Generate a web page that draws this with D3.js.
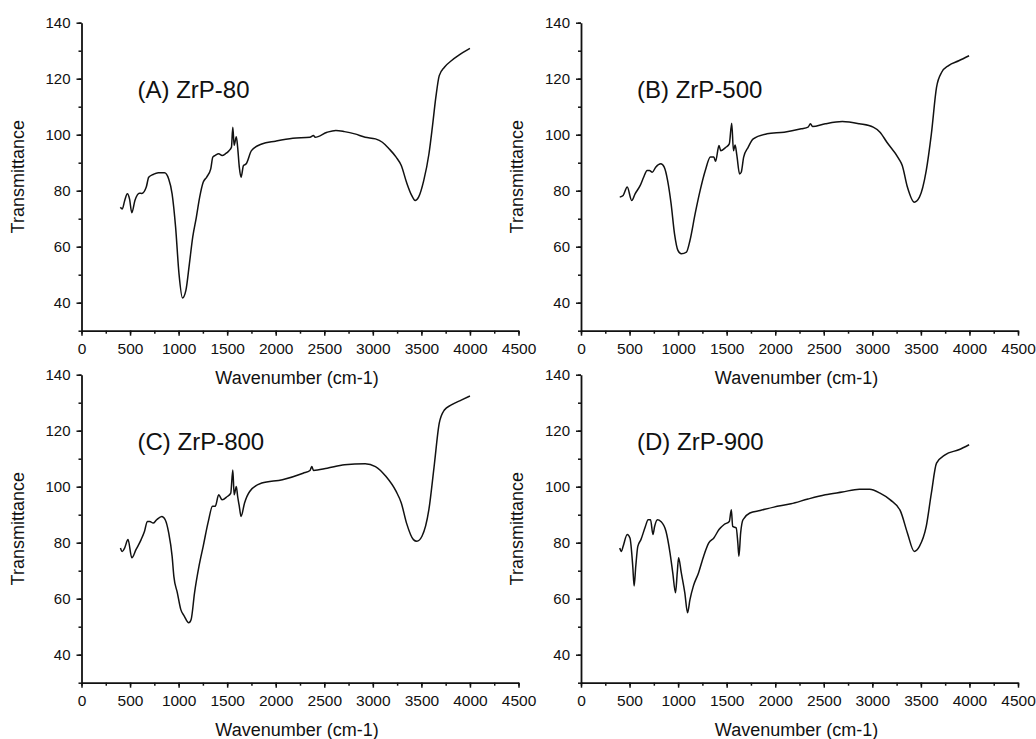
<!DOCTYPE html>
<html>
<head>
<meta charset="utf-8">
<script src="https://cdn.jsdelivr.net/npm/d3@7"></script>
<style>
  html, body { margin: 0; padding: 0; background: #fff; }
  svg { display: block; }
  text { font-family: "Liberation Sans", Arial, sans-serif; fill: #111; }
</style>
</head>
<body>
<svg id="chart" width="1036" height="739"></svg>
<script>
// ---------------- data ----------------
const xTickValues = [0, 500, 1000, 1500, 2000, 2500, 3000, 3500, 4000, 4500];
const yTickValues = [40, 60, 80, 100, 120, 140];
const xDomain = [0, 4500];
const yDomain = [30, 140];
const xTitle = "Wavenumber (cm-1)";
const yTitle = "Transmittance";
const panelLabels = ["(A) ZrP-80", "(B) ZrP-500", "(C) ZrP-800", "(D) ZrP-900"];

// [wavenumber, transmittance]
const zrp80 = [
  [400,74.1],[420,73.5],[445,76.5],[472,78.9],[495,77],[518,72.1],[550,76.5],[596,79.1],[621,79],[667,81.3],
  [692,84.8],[738,85.8],[791,86.4],[855,86.4],[898,84.2],[933,78.9],[969,67],[1004,50.3],[1040,41.7],
  [1075,44.4],[1111,53.9],[1146,63.6],[1182,70.4],[1217,77.7],[1253,83],[1288,84.8],[1331,87.8],[1352,92],
  [1377,92.6],[1413,93.2],[1448,92.6],[1483,93.2],[1519,94.3],[1544,95.5],[1558,102.7],[1572,96.2],
  [1594,99.3],[1608,95.5],[1625,88.4],[1643,84.8],[1668,89],[1696,89.6],[1750,94.3],[1856,96.7],
  [1998,97.7],[2176,98.7],[2353,99.1],[2389,99.7],[2406,99.1],[2530,100.9],[2619,101.5],[2708,101.1],
  [2814,100.3],[2921,99.1],[3027,98.5],[3098,97.3],[3169,94.9],[3240,92],[3293,89],[3347,83],[3400,78.3],
  [3436,76.5],[3471,77.7],[3524,83.6],[3578,93.2],[3613,102.7],[3649,113.4],[3684,121.1],[3737,124.1],
  [3808,126.4],[3879,128.2],[4000,130.8]
];
const zrp500 = [
  [399,77.7],[434,78.3],[476,81.3],[522,76.5],[557,78.9],[610,81.9],[645,84.8],[681,87.2],[705,87.2],
  [734,86.6],[769,88.4],[822,89.6],[857,88.4],[892,83.6],[928,75.3],[963,64.6],[998,58.7],[1033,57.5],
  [1086,58.1],[1122,62.2],[1175,71.7],[1227,80.1],[1280,87.2],[1333,92],[1368,92],[1386,90.5],[1421,96.1],
  [1439,94.3],[1492,95.5],[1527,96.7],[1552,104.1],[1570,94.3],[1587,96.3],[1605,92.6],[1633,86],
  [1650,86.6],[1675,92],[1721,95.5],[1774,98.5],[1915,100.3],[2092,100.9],[2268,102.1],[2338,102.7],
  [2363,103.9],[2384,102.9],[2515,103.9],[2691,104.7],[2867,103.9],[3009,102.7],[3079,100.9],[3150,97.3],
  [3273,91.4],[3308,89],[3361,81.3],[3432,75.9],[3485,77.7],[3555,87.2],[3608,100.3],[3661,116.9],
  [3714,122.3],[3785,124.7],[3890,126.4],[3996,128.2]
];
const zrp800 = [
  [401,78.1],[419,76.9],[444,78.1],[479,81.1],[518,74.6],[561,77.5],[614,81.1],[649,84.1],[678,87.6],
  [703,87.6],[738,87],[774,88.2],[827,89.4],[862,88.2],[898,83.5],[933,75.2],[951,68],[987,62.1],
  [1022,56.2],[1058,53.8],[1104,51.4],[1129,52.6],[1164,62.1],[1210,71.6],[1253,78.7],[1306,87.6],
  [1349,93],[1377,93],[1413,97.1],[1448,95.3],[1501,96.5],[1537,97.7],[1558,106],[1572,97.1],[1594,100.1],
  [1608,96.5],[1625,93],[1643,89.4],[1679,94.2],[1732,98.3],[1856,101.3],[2069,102.5],[2282,104.8],
  [2353,105.8],[2371,107.2],[2389,105.8],[2530,106.6],[2708,107.8],[2921,108.2],[3027,107.2],[3134,103.7],
  [3240,98.3],[3293,94.2],[3347,87],[3418,81.1],[3453,80.5],[3506,82.3],[3577,91.8],[3631,107.2],
  [3684,122.7],[3737,127.4],[3808,129.2],[3915,131],[4000,132.4]
];
const zrp900 = [
  [399,78.1],[416,76.9],[434,78.7],[476,82.9],[504,81.7],[533,71.6],[547,64.5],[564,71.6],[585,78.7],
  [617,81.1],[663,85.8],[691,88.2],[716,88.2],[741,82.9],[758,85.8],[787,88.2],[822,87.6],[875,84.1],
  [917,76.3],[945,69.2],[973,62.1],[991,69.2],[1005,74.6],[1033,69.2],[1069,62.1],[1097,55],[1122,59.7],
  [1157,64.5],[1210,69.2],[1263,75.2],[1316,79.9],[1368,81.7],[1421,84.7],[1474,86.5],[1527,87.6],
  [1548,91.8],[1562,85.8],[1598,85.3],[1615,79.9],[1626,75.2],[1644,83.5],[1668,88.2],[1739,90.6],
  [1845,91.5],[1986,92.7],[2162,93.9],[2338,95.6],[2515,97.1],[2691,98.1],[2867,99.1],[2973,99.1],
  [3079,97.7],[3185,95.3],[3291,91.2],[3361,83.5],[3432,76.9],[3485,78.7],[3555,85.8],[3608,97.7],
  [3661,108.4],[3749,111.4],[3890,113.2],[3996,115]
];

const spectra = [zrp80, zrp500, zrp800, zrp900];

// ---------------- layout ----------------
const panels = [
  { x0: 81.5, x1: 518.5, yTop: 22.7, yBot: 330.7 },
  { x0: 581, x1: 1018, yTop: 22.7, yBot: 330.7 },
  { x0: 81.5, x1: 518.5, yTop: 374.7, yBot: 682.7 },
  { x0: 581, x1: 1018, yTop: 374.7, yBot: 682.7 }
];

const svg = d3.select("#chart");
const fmt = d3.format("d");

panels.forEach((p, i) => {
  const g = svg.append("g");
  const x = d3.scaleLinear().domain(xDomain).range([p.x0, p.x1]);
  const y = d3.scaleLinear().domain(yDomain).range([p.yBot, p.yTop]);

  // minor ticks
  const xMinor = d3.range(0, 4501, 250);
  const yMinor = d3.range(30, 141, 10);
  g.append("g")
    .attr("transform", `translate(0,${p.yBot})`)
    .call(d3.axisBottom(x).tickValues(xMinor).tickSize(3).tickSizeOuter(0).tickFormat(""))
    .call(s => s.select(".domain").remove())
    .call(s => s.selectAll("line").attr("stroke", "#111").attr("stroke-width", 1.5));
  g.append("g")
    .attr("transform", `translate(${p.x0},0)`)
    .call(d3.axisLeft(y).tickValues(yMinor).tickSize(3).tickSizeOuter(0).tickFormat(""))
    .call(s => s.select(".domain").remove())
    .call(s => s.selectAll("line").attr("stroke", "#111").attr("stroke-width", 1.5));

  // major axes
  const xa = g.append("g")
    .attr("transform", `translate(0,${p.yBot})`)
    .call(d3.axisBottom(x).tickValues(xTickValues).tickFormat(fmt).tickSize(5).tickSizeOuter(0).tickPadding(7));
  xa.selectAll("text").attr("font-size", 15.5).attr("font-family", "Liberation Sans, Arial, sans-serif").attr("fill", "#111");
  xa.selectAll("line").attr("stroke", "#111").attr("stroke-width", 1.5);
  xa.select(".domain").attr("stroke", "#111").attr("stroke-width", 1.8);

  const ya = g.append("g")
    .attr("transform", `translate(${p.x0},0)`)
    .call(d3.axisLeft(y).tickValues(yTickValues).tickFormat(fmt).tickSize(5).tickSizeOuter(0).tickPadding(6));
  ya.selectAll("text").attr("font-size", 15).attr("font-family", "Liberation Sans, Arial, sans-serif").attr("fill", "#111");
  ya.selectAll("line").attr("stroke", "#111").attr("stroke-width", 1.5);
  ya.select(".domain").attr("stroke", "#111").attr("stroke-width", 1.8);

  // axis titles
  g.append("text")
    .attr("x", (p.x0 + p.x1) / 2 - 3)
    .attr("y", p.yBot + 53.5)
    .attr("text-anchor", "middle")
    .attr("font-size", 18)
    .text(xTitle);
  g.append("text")
    .attr("transform", `translate(${p.x0 - 58},${(p.yTop + p.yBot) / 2}) rotate(-90)`)
    .attr("text-anchor", "middle")
    .attr("font-size", 18)
    .text(yTitle);

  // panel label
  g.append("text")
    .attr("x", p.x0 + 56)
    .attr("y", p.yTop + 75)
    .attr("font-size", 24)
    .text(panelLabels[i]);

  // spectrum
  const line = d3.line()
    .x(d => x(d[0]))
    .y(d => y(d[1]))
    .curve(d3.curveMonotoneX);
  g.append("path")
    .datum(spectra[i])
    .attr("fill", "none")
    .attr("stroke", "#111")
    .attr("stroke-width", 1.5)
    .attr("stroke-linejoin", "round")
    .attr("d", line);
});
</script>
</body>
</html>
